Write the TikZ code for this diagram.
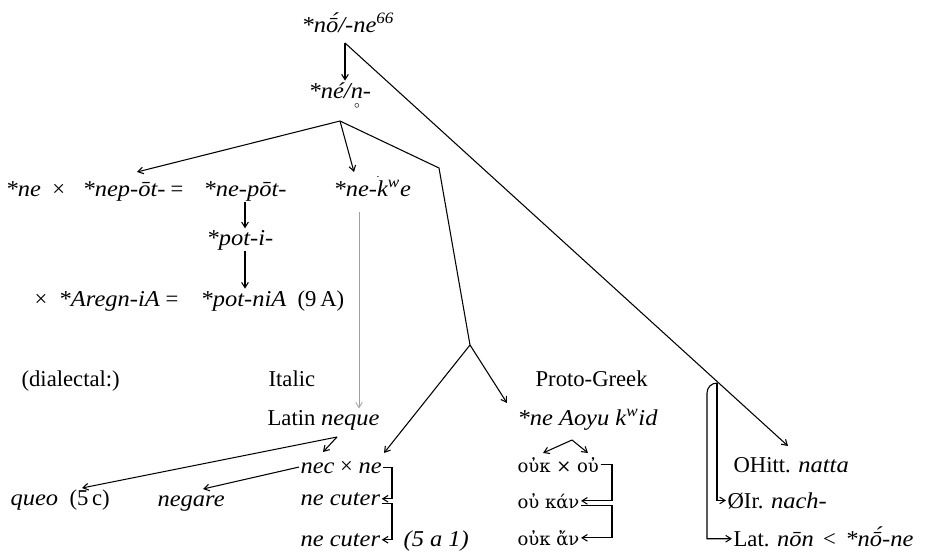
\documentclass[tikz,border=0pt]{standalone}
\usepackage{fontspec}
\setmainfont{Liberation Serif}[ItalicFeatures={FakeStretch=1.08}]
\newfontfamily\grk{DejaVu Serif}
\usetikzlibrary{arrows.meta,calc}
\newcommand\macac{\ooalign{ō\cr\hidewidth\kern0.2em\raisebox{0.35ex}{´}\hidewidth\cr}}
\newcommand\ringn{\ooalign{n\cr\hidewidth\raisebox{-8pt}{$\scriptscriptstyle\circ$}\hidewidth\cr}}
\newcommand\dotk{\llap{\raisebox{14pt}{\footnotesize.}\kern-2pt}k}
\begin{document}
\begin{tikzpicture}[x=0.75pt,y=-0.75pt,
  every node/.style={font=\fontsize{17}{20}\selectfont, inner sep=1pt},
  lbl/.style={anchor=base west},
  gk/.style={anchor=base west, font=\grk\fontsize{13.5}{16}\selectfont},
  arr/.style={-{Straight Barb[length=4pt,width=5pt]}, line width=0.8pt},
  ln/.style={line width=0.8pt}]
\useasboundingbox (0,0) rectangle (936,553);

% nodes
\node[lbl] (top) at (300,32) {\textit{*n\macac/-ne\textsuperscript{66}}};
\node[lbl] (ne) at (307,98) {\textit{*né/\ringn-}};
\node[lbl] (r1a) at (4,196) {\textit{*ne}\enspace×};
\node[lbl] (r1b) at (81,196) {\textit{*nep-ōt-}};
\node[lbl] (r1c) at (169,196) {=};
\node[lbl] (nepot) at (202,196) {\textit{*ne-pōt-}};
\node[lbl] (nekwe) at (332,196) {\textit{*ne-\dotk\textsuperscript{w}e}};
\node[lbl] (poti) at (205,245) {\textit{*pot-i-}};
\node[lbl] (r3) at (33,306) {×\enspace\textit{*Aregn-iA} =};
\node[lbl] (potnia) at (199,306) {\textit{*pot-niA}\enspace(9\,A)};
\node[lbl] (dial) at (20,386) {(dialectal:)};
\node[lbl] (italic) at (267,386) {Italic};
\node[lbl] (pg) at (534,386) {Proto-Greek};
\node[lbl] (latin) at (266,425) {Latin \textit{neque}};
\node[lbl] (nak) at (516,425) {\textit{*ne Aoyu k\textsuperscript{w}id}};
\node[lbl] (necne) at (299,473) {\textit{nec} × \textit{ne}};
\node[gk] (ouk) at (516,472) {οὐκ × οὐ};
\node[lbl] (ohitt) at (732,472) {OHitt. \textit{natta}};
\node[lbl] (queo) at (9,505) {\textit{queo}\enspace(5\,c)};
\node[lbl] (negare) at (156,506) {\textit{negare}};
\node[lbl] (nc1) at (299,505) {\textit{ne cuter}};
\node[gk] (oukan) at (516,508) {οὐ κάν};
\node[lbl] (oir) at (726,508) {ØIr. \textit{nach-}};
\node[lbl] (nc2) at (299,546) {\textit{ne cuter}};
\node[lbl] (fsa) at (402,546) {\textit{(5 a 1)}};
\node[gk] (oukan2) at (516,545) {οὐκ ἄν};
\node[lbl] (lat) at (732,546) {Lat. \textit{nōn} \,<\, \textit{*n\macac-ne}};

% coordinates
\coordinate (t1) at (345,43);
\coordinate (f1) at (340,121);
\coordinate (bend) at (439,168);
\coordinate (f2) at (470,345);
\coordinate (f3) at (337,437);
\coordinate (g1) at (359,212);
\coordinate (b0) at (717,383);
\coordinate (peak) at (572,440);
\coordinate (lb) at (392,0);
\coordinate (gb) at (612,0);
\coordinate (a1) at (137,172);
\coordinate (a2) at (354,172);
\coordinate (a3) at (384,453);
\coordinate (a4) at (507,403);
\coordinate (a5) at (82,488);
\coordinate (a6) at (323,452);
\coordinate (a7) at (203,489);
\coordinate (a8) at (788,446);
\coordinate (p1) at (543,453);
\coordinate (p2) at (588,453);

% connectors
\draw[arr] (t1) -- (ne.north -| t1);
\draw[arr] (t1) -- (a8);
\draw[arr] (f1) -- (a1);
\draw[arr] (f1) -- (a2);
\draw[ln] (f1) -- (bend) -- (f2);
\draw[arr] (f2) -- (a3);
\draw[arr] (f2) -- (a4);
\draw[arr] (nepot.south -| 245,0) -- (poti.north -| 245,0);
\draw[arr] (poti.south -| 245,0) -- (potnia.north -| 245,0);
\draw[arr, gray!75, line width=0.6pt] (g1) -- (latin.north -| g1);
\draw[arr] (f3) -- (a5);
\draw[arr] (f3) -- (a6);
\draw[arr] (necne.west) -- (a7);
\draw[arr] (necne.east) -- (necne.east -| lb) |- (nc1.east);
\draw[arr] ($(nc1.east)+(0,5)$) -- ($(nc1.east -| lb)+(0,5)$) |- (nc2.east);
\draw[arr] (peak) -- (p1);
\draw[arr] (peak) -- (p2);
\draw[arr] (ouk.east) -- (ouk.east -| gb) |- (oukan.east);
\draw[arr] ($(oukan.east)+(0,5)$) -- ($(oukan.east -| gb)+(0,5)$) |- (oukan2.east);
\draw[arr] (b0) |- (oir.west);
\draw[arr] (b0) to[out=180,in=90] (707,393) |- (lat.west);
\end{tikzpicture}
\end{document}
